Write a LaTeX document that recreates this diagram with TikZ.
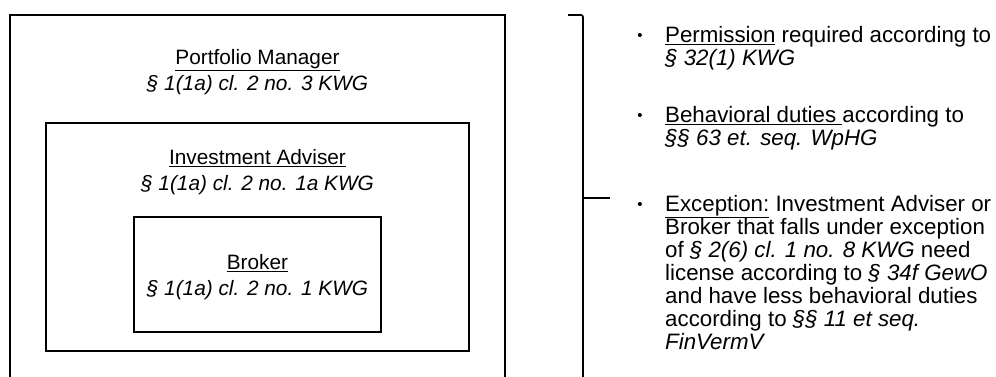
\documentclass[tikz,border=0pt]{standalone}
\usepackage{fontspec}
\setmainfont{Liberation Sans}
\usetikzlibrary{positioning}

\begin{document}
\begin{tikzpicture}[
        x=1pt,
        y=-1pt,
        frame/.style={draw=black, line width=1.7pt, inner sep=0pt, outer sep=0pt, anchor=north west},
        boxtitle/.style={align=center, font=\fontsize{20.8}{26}\selectfont, inner sep=0pt},
        bracket/.style={draw=black, line width=1.7pt},
        point/.style={align=left, anchor=north west, font=\fontsize{22.3}{23}\selectfont, inner sep=0pt},
        dot/.style={font=\fontsize{15}{15}\selectfont, inner sep=0pt}
    ]
        \useasboundingbox (0,0) rectangle (996,376);
        \clip (0,0) rectangle (996,376);

        % nested boxes: portfolio manager > investment adviser > broker
        \node[frame, minimum width=495, minimum height=420] (pm) at (10,15) {};
        \node[frame, minimum width=423, minimum height=228] (ia) at (46,123) {};
        \node[frame, minimum width=247, minimum height=115] (br) at (134,217) {};

        \node[boxtitle] (pmlab) at (257.5,72) {\underline{Portfolio Manager}\\\textit{§ 1(1a) cl. 2 no. 3 KWG}};
        \node[boxtitle] (ialab) at (257.5,172) {\underline{Investment Adviser}\\\textit{§ 1(1a) cl. 2 no. 1a KWG}};
        \node[boxtitle] (brlab) at (257.5,277) {\underline{Broker}\\\textit{§ 1(1a) cl. 2 no. 1 KWG}};

        % bracket
        \coordinate (brtop) at (568,15);
        \coordinate (brbot) at (583,400);
        \coordinate (brtip) at (610,198);
        \draw[bracket, rounded corners=2pt] (brtop) -| (brbot);
        \draw[bracket] (brtip -| brbot) -- (brtip);

        % bullet points
        \foreach \y/\name in {37/b1,117/b2,206/b3} {
            \node[dot] (\name) at (640,\y) {•};
        }
        \node[point] (i1) at (665,26) {\underline{Permission} required according to\\\textit{§ 32(1) KWG}};
        \node[point] (i2) at (665,106) {\underline{Behavioral duties\ }according to\\\textit{§§ 63 et. seq. WpHG}};
        \node[point] (i3) at (665,195) {\underline{Exception:} Investment Adviser or\\
            Broker that falls under exception\\
            of \textit{§ 2(6) cl. 1 no. 8 KWG} need\\
            license according to \textit{§ 34f GewO}\\
            and have less behavioral duties\\
            according to \textit{§§ 11 et seq.}\\
            \textit{FinVermV}};
    \end{tikzpicture}
\end{document}
